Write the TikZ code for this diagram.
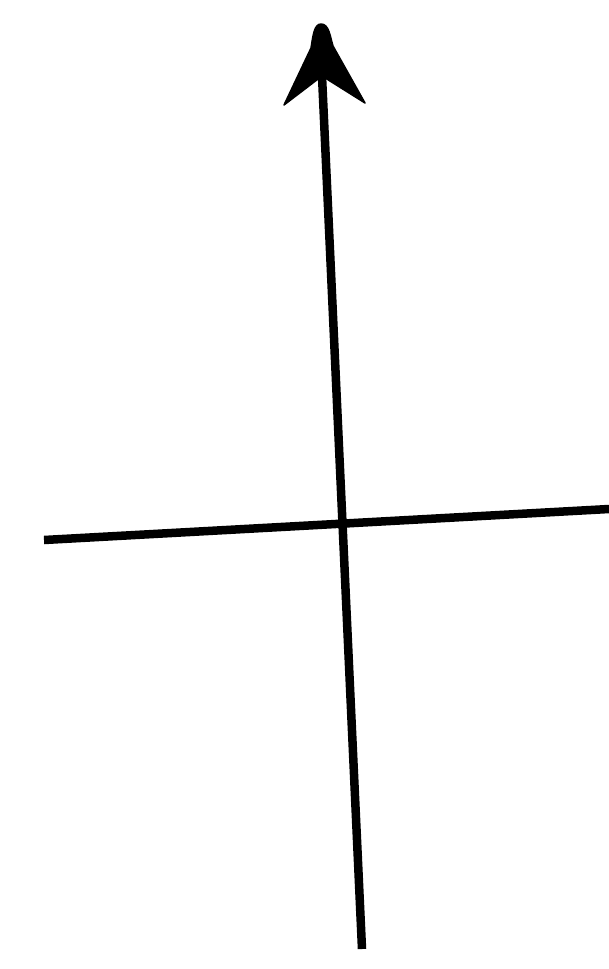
\documentclass[tikz,border=0pt]{standalone}
\begin{document}
\begin{tikzpicture}[x=1pt,y=-1pt,
  axis/.style={line width=8.5pt,black},
  head/.style={fill=black,draw=black,line width=1.5pt,line join=round}]
\useasboundingbox (0,0) rectangle (609,969);
\fill[white] (0,0) rectangle (609,969);
\coordinate (bottom) at (362,949);
\coordinate (notch) at (322,76);
\coordinate (tip) at (321,24);
\coordinate (lb) at (284,105);
\coordinate (rb) at (365,103);
\coordinate (left) at (44,540);
\coordinate (right) at (609,509);
\draw[axis] (left) -- (right);
\draw[axis] (bottom) -- (notch);
\filldraw[head] (tip) .. controls (329,24) and (330,36) .. (333,46)
  -- (rb) -- (notch) -- (lb) -- (311,48) .. controls (313,36) and (314,24) .. (tip) -- cycle;
\end{tikzpicture}
\end{document}
